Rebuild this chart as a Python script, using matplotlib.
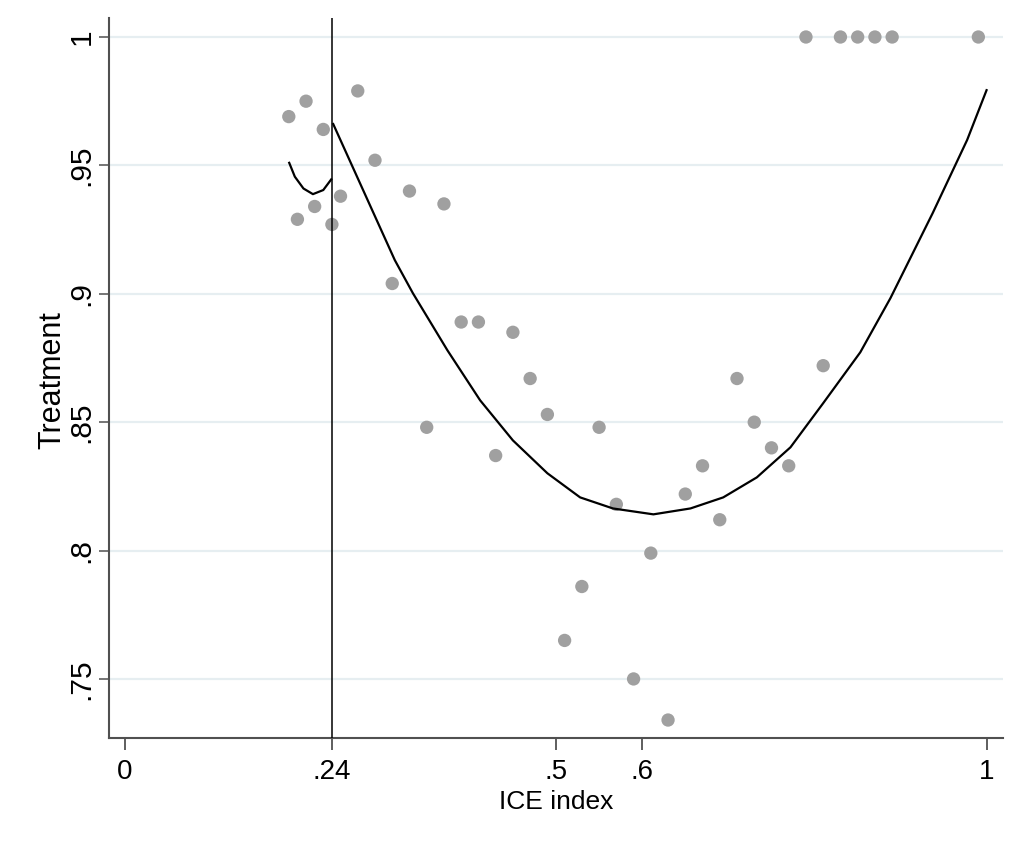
import matplotlib
matplotlib.use("Agg")
import matplotlib.pyplot as plt
from matplotlib import font_manager as fm

# ---------------- data ----------------
ice_index = [0.19, 0.20, 0.21, 0.22, 0.23, 0.24, 0.25, 0.27, 0.29, 0.31,
             0.33, 0.35, 0.37, 0.39, 0.41, 0.43, 0.45, 0.47, 0.49, 0.51,
             0.53, 0.55, 0.57, 0.59, 0.61, 0.63, 0.65, 0.67, 0.69, 0.71,
             0.73, 0.75, 0.77, 0.79, 0.81, 0.83, 0.85, 0.87, 0.89, 0.99]
treatment = [0.969, 0.929, 0.975, 0.934, 0.964, 0.927, 0.938, 0.979, 0.952, 0.904,
             0.940, 0.848, 0.935, 0.889, 0.889, 0.837, 0.885, 0.867, 0.853, 0.765,
             0.786, 0.848, 0.818, 0.750, 0.799, 0.734, 0.822, 0.833, 0.812, 0.867,
             0.850, 0.840, 0.833, 1.000, 0.872, 1.000, 1.000, 1.000, 1.000, 1.000]

# quadratic fit below the threshold
fit_low_x = [0.190, 0.197, 0.207, 0.218, 0.230, 0.240]
fit_low_y = [0.9514, 0.9456, 0.9410, 0.9388, 0.9404, 0.9449]

# quadratic fit above the threshold
fit_high_x = [0.241, 0.313, 0.334, 0.374, 0.412, 0.450, 0.490, 0.528, 0.566, 0.613,
              0.656, 0.694, 0.733, 0.772, 0.810, 0.853, 0.888, 0.937, 0.977, 1.000]
fit_high_y = [0.9665, 0.9131, 0.9002, 0.8780, 0.8585, 0.8429, 0.8301, 0.8207, 0.8164, 0.8141,
              0.8164, 0.8207, 0.8285, 0.8402, 0.8574, 0.8772, 0.8983, 0.9314, 0.9599, 0.9797]

threshold = 0.24

x_ticks = [0, 0.24, 0.5, 0.6, 1]
x_tick_labels = ["0", ".24", ".5", ".6", "1"]
y_ticks = [0.75, 0.80, 0.85, 0.90, 0.95, 1.00]
y_tick_labels = [".75", ".8", ".85", ".9", ".95", "1"]

x_title = "ICE index"
y_title = "Treatment"

# ---------------- fonts ----------------
def has_font(name):
    try:
        fm.findfont(fm.FontProperties(family=name), fallback_to_default=False)
        return True
    except Exception:
        return False

base = "Liberation Sans" if has_font("Liberation Sans") else "DejaVu Sans"
narrow_ok = has_font("Liberation Sans Narrow")
xlab_family = "Liberation Sans Narrow" if narrow_ok else base
xlab_size = 22.5 if narrow_ok else 19

plt.rcParams["font.family"] = [base, "DejaVu Sans"]

# ---------------- figure ----------------
fig = plt.figure(figsize=(10.18, 8.51), dpi=100)
fig.patch.set_facecolor("white")
ax = fig.add_axes([109 / 1018, 1 - 738 / 851, 894 / 1018, 720 / 851])

ax.set_xlim(-0.0186, 1.0186)
ax.set_ylim(0.7270, 1.0074)

# grid
for yv in y_ticks:
    ax.axhline(yv, color="#e6eef1", lw=1.6, zorder=0)

ax.scatter(ice_index, treatment, s=92, color="#a0a0a0", edgecolors="none", zorder=2)
ax.axvline(threshold, color="black", lw=1.1, zorder=3)
ax.plot(fit_low_x, fit_low_y, color="black", lw=1.6, zorder=4,
        solid_joinstyle="round", solid_capstyle="butt")
ax.plot(fit_high_x, fit_high_y, color="black", lw=1.6, zorder=4,
        solid_joinstyle="round", solid_capstyle="butt")

# spines
for s in ("top", "right"):
    ax.spines[s].set_visible(False)
for s in ("left", "bottom"):
    ax.spines[s].set_color("#505050")
    ax.spines[s].set_linewidth(1.5)

ax.set_xticks(x_ticks)
ax.set_xticklabels(x_tick_labels, fontsize=20)
ax.set_yticks(y_ticks)
ax.set_yticklabels(y_tick_labels, fontsize=21.5, rotation=90, va="center")

ax.tick_params(axis="x", direction="out", length=8.6, width=1.1, color="#333333", pad=6.5)
ax.tick_params(axis="y", direction="out", length=7.2, width=1.1, color="#505050", pad=2.5)

ax.set_xlabel(x_title, family=[xlab_family, "DejaVu Sans"], fontsize=xlab_size,
              ha="center", va="center")
ax.xaxis.set_label_coords(0.5, (738 - 802.3) / 720)
ax.set_ylabel(y_title, fontsize=22, ha="center", va="center")
ax.yaxis.set_label_coords((52 - 109) / 894, (738 - 380) / 720)

fig.savefig("out.png", dpi=100, facecolor="white")
